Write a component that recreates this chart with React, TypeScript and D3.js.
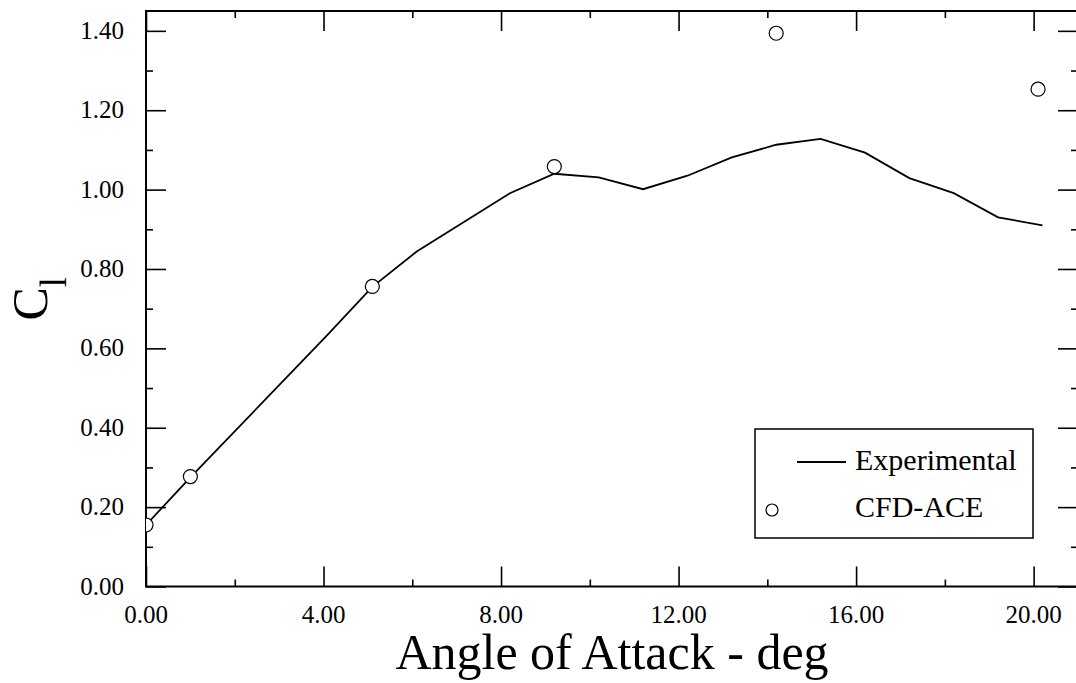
import React, { useEffect, useRef } from 'react';
import * as d3 from 'd3';

// Experimental lift curve (angle in deg, Cl)
const expAlpha = [0.0, 1.0, 4.1, 5.1, 6.1, 8.2, 9.2, 10.2, 11.2, 12.2, 13.2, 14.2, 15.2, 16.2, 17.2, 18.2, 19.2, 20.2];
const expCl = [0.155, 0.275, 0.635, 0.755, 0.844, 0.991, 1.040, 1.031, 1.001, 1.035, 1.081, 1.113, 1.128, 1.093, 1.029, 0.991, 0.930, 0.910];

// CFD-ACE results
const cfdAlpha = [0.0, 1.0, 5.1, 9.2, 14.2, 20.1];
const cfdCl = [0.155, 0.277, 0.756, 1.058, 1.394, 1.253];

const xTicks = [0, 4, 8, 12, 16, 20];
const yTicks = [0, 0.2, 0.4, 0.6, 0.8, 1.0, 1.2, 1.4];
const xMinor = [2, 6, 10, 14, 18];
const yMinor = [0.1, 0.3, 0.5, 0.7, 0.9, 1.1, 1.3];

const legendItems = ['Experimental', 'CFD-ACE'];

const W = 1076;
const H = 683;
const FONT = "'Liberation Serif', 'Times New Roman', serif";

function App() {
    const ref = useRef<SVGSVGElement>(null);

    useEffect(() => {
        const svg = d3.select(ref.current);
        svg.selectAll('*').remove();

        const left = 146, right = 1078, top = 11, bottom = 586.5;

        const x = d3.scaleLinear().domain([0, 21]).range([left, right]);
        const y = d3.scaleLinear().domain([0, 1.45]).range([bottom, top]);

        svg.append('defs').append('clipPath').attr('id', 'plotclip')
            .append('rect')
            .attr('x', left).attr('y', top)
            .attr('width', right - left).attr('height', bottom - top);

        const majorLen = 20, minorLen = 7;

        // ticks on all four sides
        const bottomAxis = d3.axisBottom(x).tickValues(xTicks).tickSize(-majorLen).tickFormat(() => '');
        const bottomMinor = d3.axisBottom(x).tickValues(xMinor).tickSize(-minorLen).tickFormat(() => '');
        const topAxis = d3.axisTop(x).tickValues(xTicks).tickSize(-majorLen).tickFormat(() => '');
        const topMinor = d3.axisTop(x).tickValues(xMinor).tickSize(-minorLen).tickFormat(() => '');
        const leftAxis = d3.axisLeft(y).tickValues(yTicks).tickSize(-majorLen).tickFormat(() => '');
        const leftMinor = d3.axisLeft(y).tickValues(yMinor).tickSize(-minorLen).tickFormat(() => '');
        const rightAxis = d3.axisRight(y).tickValues(yTicks).tickSize(-majorLen).tickFormat(() => '');
        const rightMinor = d3.axisRight(y).tickValues(yMinor).tickSize(-minorLen).tickFormat(() => '');

        const axes: [any, string][] = [
            [bottomAxis, `translate(0,${bottom})`],
            [bottomMinor, `translate(0,${bottom})`],
            [topAxis, `translate(0,${top})`],
            [topMinor, `translate(0,${top})`],
            [leftAxis, `translate(${left},0)`],
            [leftMinor, `translate(${left},0)`],
            [rightAxis, `translate(${right},0)`],
            [rightMinor, `translate(${right},0)`],
        ];
        axes.forEach(([ax, tr]) => {
            const g = svg.append('g').attr('transform', tr).call(ax);
            g.select('.domain').remove();
            g.selectAll('line').attr('stroke', '#000').attr('stroke-width', 1.6);
        });

        // frame
        svg.append('rect')
            .attr('x', left).attr('y', top)
            .attr('width', right - left).attr('height', bottom - top)
            .attr('fill', 'none').attr('stroke', '#000').attr('stroke-width', 2);

        // tick labels
        svg.append('g').selectAll('text')
            .data(xTicks)
            .enter()
            .append('text')
            .attr('x', d => x(d))
            .attr('y', 623)
            .attr('text-anchor', 'middle')
            .attr('font-family', FONT)
            .attr('font-size', 25)
            .text(d => d.toFixed(2));

        svg.append('g').selectAll('text')
            .data(yTicks)
            .enter()
            .append('text')
            .attr('x', 124)
            .attr('y', d => y(d) + 8)
            .attr('text-anchor', 'end')
            .attr('font-family', FONT)
            .attr('font-size', 25)
            .text(d => d.toFixed(2));

        // axis titles
        svg.append('text')
            .attr('x', (left + right) / 2)
            .attr('y', 669)
            .attr('text-anchor', 'middle')
            .attr('font-family', FONT)
            .attr('font-size', 50)
            .text('Angle of Attack - deg');

        const yl = svg.append('text')
            .attr('transform', `translate(47,${(top + bottom) / 2}) rotate(-90)`)
            .attr('text-anchor', 'middle')
            .attr('font-family', FONT)
            .attr('font-size', 50);
        yl.append('tspan').text('C');
        yl.append('tspan').attr('font-size', 37).attr('dy', 19).text('l');

        // data
        const plot = svg.append('g').attr('clip-path', 'url(#plotclip)');

        const line = d3.line<number>()
            .x((d, i) => x(expAlpha[i]))
            .y(d => y(d));

        plot.append('path')
            .datum(expCl)
            .attr('d', line)
            .attr('fill', 'none')
            .attr('stroke', '#000')
            .attr('stroke-width', 1.8);

        plot.selectAll('circle')
            .data(cfdCl)
            .enter()
            .append('circle')
            .attr('cx', (d, i) => x(cfdAlpha[i]))
            .attr('cy', d => y(d))
            .attr('r', 7)
            .attr('fill', '#fff')
            .attr('stroke', '#000')
            .attr('stroke-width', 1.2);

        // legend
        const lg = svg.append('g');
        lg.append('rect')
            .attr('x', 755).attr('y', 429)
            .attr('width', 278).attr('height', 109)
            .attr('fill', '#fff')
            .attr('stroke', '#000')
            .attr('stroke-width', 1.5);
        lg.append('line')
            .attr('x1', 797).attr('x2', 846)
            .attr('y1', 462).attr('y2', 462)
            .attr('stroke', '#000').attr('stroke-width', 1.8);
        lg.append('circle')
            .attr('cx', 772).attr('cy', 510).attr('r', 6)
            .attr('fill', '#fff').attr('stroke', '#000').attr('stroke-width', 1.2);
        lg.selectAll('text.lab')
            .data(legendItems)
            .enter()
            .append('text')
            .attr('class', 'lab')
            .attr('x', 855)
            .attr('y', (d, i) => 470 + i * 47)
            .attr('font-family', FONT)
            .attr('font-size', 30)
            .text(d => d);
    }, []);

    return (
        <svg ref={ref} width={W} height={H}
             style={{ position: 'absolute', left: 0, top: 0, background: '#fff' }} />
    );
}

export default App;
